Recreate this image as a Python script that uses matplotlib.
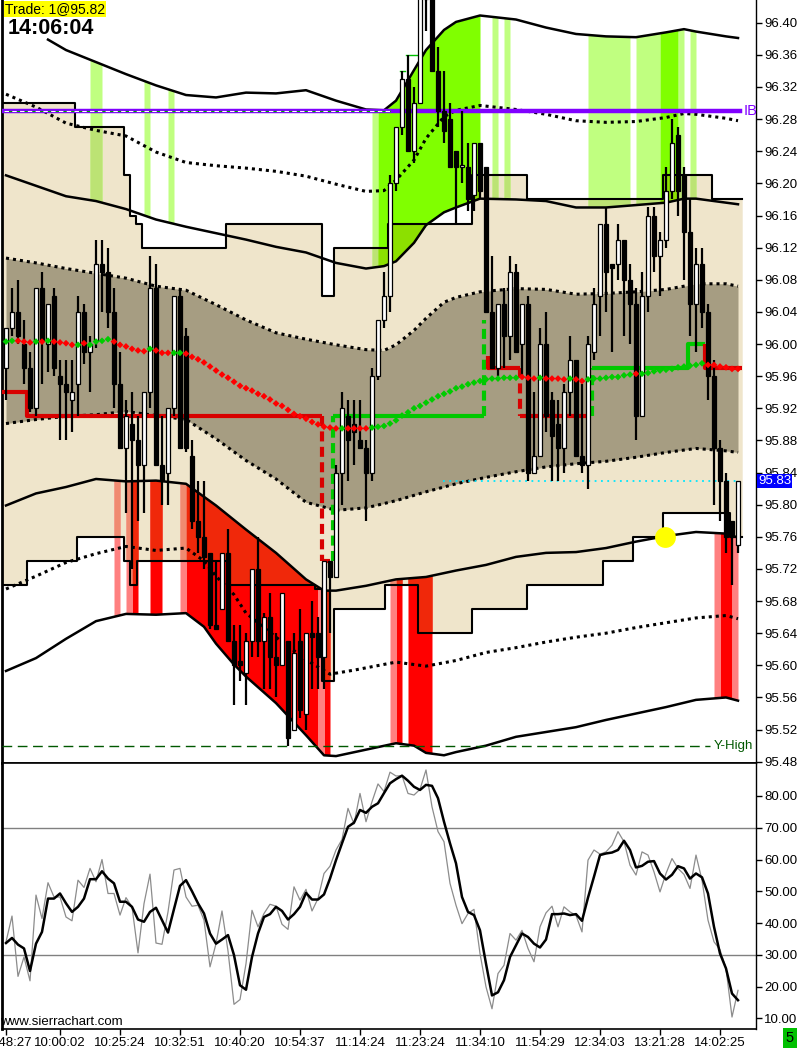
import numpy as np
import matplotlib.pyplot as plt
from matplotlib.patches import Rectangle

plt.rcParams['font.family'] = ['Liberation Sans', 'DejaVu Sans']

# ---------------- price bars (one per bar index) ----------------
opens = [95.97, 96.02, 96.04, 96.00, 95.97, 95.92, 96.07, 96.00, 96.06, 95.96,
         95.95, 95.93, 95.95, 96.04, 95.99, 96.005, 96.10, 96.09, 96.04, 95.95,
         95.87, 95.90, 95.88, 95.85, 95.94, 96.07, 95.85, 95.84, 95.92, 96.06,
         96.01, 95.86, 95.78, 95.76, 95.74, 95.65, 95.67, 95.74, 95.63, 95.605,
         95.59, 95.63, 95.72, 95.63, 95.66, 95.61, 95.60, 95.63, 95.52, 95.63,
         95.54, 95.64, 95.64, 95.61, 95.73, 95.71, 95.84, 95.91, 95.90, 95.88,
         95.87, 95.84, 95.96, 96.03, 96.06, 96.20, 96.27, 96.33, 96.24, 96.30,
         96.43, 96.45, 96.34, 96.29, 96.28, 96.24, 96.22, 96.22, 96.185, 96.25,
         96.22, 96.04, 95.97, 96.05, 96.01, 96.09, 96.00, 96.05, 95.84, 95.86,
         96.00, 95.93, 95.90, 95.87, 95.94, 95.98, 95.86, 95.85, 95.99, 96.06,
         96.15, 96.10, 96.10, 96.13, 96.08, 96.05, 95.91, 96.06, 96.16, 96.11,
         96.13, 96.19, 96.26, 96.21, 96.14, 96.05, 96.10, 96.04, 95.96, 95.87,
         95.83, 95.78, 95.75]
highs = [96.02, 96.07, 96.08, 96.03, 95.99, 96.07, 96.09, 96.05, 96.07, 95.98,
         95.98, 95.98, 96.06, 96.05, 96.01, 96.13, 96.13, 96.12, 96.07, 95.99,
         95.93, 95.94, 95.91, 95.94, 96.11, 96.10, 95.91, 95.92, 96.06, 96.07,
         96.02, 95.88, 95.83, 95.83, 95.74, 95.73, 95.74, 95.77, 95.65, 95.65,
         95.64, 95.72, 95.76, 95.665, 95.69, 95.64, 95.69, 95.63, 95.64, 95.67,
         95.64, 95.68, 95.66, 95.73, 95.73, 95.85, 95.94, 95.93, 95.93, 95.93,
         95.88, 95.97, 96.03, 96.09, 96.21, 96.27, 96.34, 96.36, 96.32, 96.46,
         96.48, 96.47, 96.37, 96.34, 96.30, 96.24, 96.29, 96.25, 96.25, 96.25,
         96.22, 96.11, 96.05, 96.07, 96.11, 96.10, 96.05, 96.06, 95.94, 96.02,
         96.04, 95.94, 95.93, 95.95, 96.01, 95.98, 95.95, 96.01, 96.07, 96.15,
         96.17, 96.10, 96.15, 96.13, 96.10, 96.07, 96.09, 96.17, 96.17, 96.14,
         96.22, 96.28, 96.27, 96.22, 96.18, 96.12, 96.12, 96.05, 95.98, 95.88,
         95.84, 95.78, 95.83]
lows = [95.93, 96.01, 96.00, 95.95, 95.915, 95.91, 95.95, 95.965, 95.96, 95.88,
        95.88, 95.89, 95.91, 95.975, 95.94, 95.995, 96.04, 96.02, 95.92, 95.87,
        95.79, 95.72, 95.78, 95.79, 95.92, 95.85, 95.80, 95.80, 95.91, 95.87,
        95.865, 95.77, 95.74, 95.72, 95.645, 95.645, 95.67, 95.63, 95.55, 95.58,
        95.55, 95.61, 95.61, 95.57, 95.57, 95.56, 95.60, 95.50, 95.52, 95.535,
        95.52, 95.57, 95.57, 95.57, 95.64, 95.71, 95.80, 95.83, 95.85, 95.87,
        95.78, 95.83, 95.955, 96.02, 96.04, 96.19, 96.26, 96.24, 96.225, 96.30,
        96.39, 96.34, 96.27, 96.25, 96.22, 96.15, 96.20, 96.165, 96.165, 96.18,
        96.04, 95.97, 95.96, 95.97, 95.98, 95.99, 95.96, 95.83, 95.84, 95.86,
        95.89, 95.83, 95.83, 95.84, 95.91, 95.86, 95.84, 95.82, 95.98, 96.01,
        96.04, 95.99, 96.08, 96.01, 96.00, 95.88, 95.91, 96.04, 96.09, 96.06,
        96.12, 96.18, 96.16, 96.08, 96.01, 95.99, 96.02, 95.93, 95.80, 95.78,
        95.74, 95.70, 95.74]
closes = [96.02, 96.04, 96.01, 95.97, 95.92, 96.07, 96.005, 96.05, 95.97, 95.95,
          95.94, 95.94, 96.04, 95.99, 96.00, 96.10, 96.09, 96.04, 95.95, 95.87,
          95.91, 95.88, 95.85, 95.94, 96.07, 95.85, 95.83, 95.92, 96.06, 95.87,
          95.87, 95.78, 95.76, 95.735, 95.65, 95.645, 95.74, 95.63, 95.60, 95.60,
          95.63, 95.72, 95.63, 95.66, 95.61, 95.60, 95.69, 95.51, 95.615, 95.545,
          95.64, 95.635, 95.61, 95.73, 95.71, 95.84, 95.92, 95.88, 95.89, 95.87,
          95.84, 95.96, 96.03, 96.06, 96.20, 96.27, 96.33, 96.24, 96.30, 96.44,
          96.47, 96.34, 96.29, 96.265, 96.22, 96.22, 96.22, 96.18, 96.25, 96.19,
          96.04, 95.97, 96.05, 96.01, 96.09, 95.99, 96.05, 95.84, 95.86, 96.00,
          95.91, 95.885, 95.87, 95.94, 95.98, 95.86, 95.85, 96.00, 96.05, 96.15,
          96.09, 96.095, 96.13, 96.08, 96.05, 95.91, 96.06, 96.16, 96.11, 96.13,
          96.19, 96.25, 96.19, 96.14, 96.05, 96.10, 96.04, 95.96, 95.87, 95.83,
          95.76, 95.76, 95.83]

# colored moving average (dots)
ma = [96.003, 96.004, 96.004, 96.003, 96.002, 96.003, 96.003, 96.004, 96.003, 96.002,
      96.001, 95.999, 95.999, 96.001, 95.999, 96.003, 96.004, 96.006, 96.003, 95.999,
      95.997, 95.994, 95.992, 95.991, 95.994, 95.992, 95.989, 95.989, 95.989, 95.989,
      95.988, 95.984, 95.981, 95.977, 95.972, 95.967, 95.962, 95.958, 95.953, 95.948,
      95.945, 95.942, 95.938, 95.935, 95.931, 95.926, 95.923, 95.918, 95.913, 95.910,
      95.907, 95.903, 95.900, 95.897, 95.896, 95.895, 95.895, 95.895, 95.895, 95.895,
      95.895, 95.896, 95.897, 95.898, 95.901, 95.905, 95.911, 95.915, 95.920, 95.923,
      95.927, 95.931, 95.935, 95.938, 95.941, 95.945, 95.947, 95.950, 95.952, 95.954,
      95.956, 95.957, 95.957, 95.958, 95.958, 95.958, 95.959, 95.958, 95.957, 95.958,
      95.957, 95.957, 95.957, 95.956, 95.957, 95.956, 95.954, 95.956, 95.957, 95.957,
      95.958, 95.959, 95.959, 95.961, 95.962, 95.963, 95.963, 95.964, 95.966, 95.967,
      95.968, 95.969, 95.971, 95.972, 95.973, 95.974, 95.976, 95.974, 95.974, 95.972,
      95.971, 95.969, 95.969]
ma_dirs = ("ggrrrgrgrr" "rrgrggggrr" "rrrrgrrrgg" "rrrrrrrrrr" "rrrrrrrrrr"
           "rrrrrrgrrr" "rggggggggg" "gggggggggg" "ggggggrrrg" "rrrrgrrggg"
           "gggggrgggg" "gggggggrrr" "rrr")

# envelope lines: (bar, price) samples
u3_x = [7, 10, 15, 20, 25, 30, 35, 40, 45, 50, 55, 60, 63, 65, 68, 70, 73, 75, 79, 85,
        90, 95, 100, 105, 110, 113, 115, 120, 122]
u3_y = [96.379, 96.366, 96.351, 96.336, 96.322, 96.310, 96.307, 96.313, 96.312, 96.316,
        96.303, 96.292, 96.291, 96.303, 96.341, 96.366, 96.391, 96.401, 96.409, 96.404,
        96.394, 96.386, 96.383, 96.382, 96.388, 96.392, 96.389, 96.383, 96.381]
up_x = [0, 5, 10, 15, 20, 25, 30, 35, 40, 45, 50, 55, 60, 63, 65, 68, 70, 73, 75, 79,
        85, 90, 95, 100, 105, 110, 113, 115, 120, 122]
u2_y = [96.311, 96.295, 96.275, 96.266, 96.259, 96.239, 96.226, 96.222, 96.219, 96.215,
        96.209, 96.199, 96.190, 96.191, 96.204, 96.229, 96.256, 96.283, 96.291, 96.297,
        96.292, 96.286, 96.278, 96.276, 96.277, 96.282, 96.287, 96.286, 96.281, 96.278]
u1_y = [96.210, 96.197, 96.184, 96.178, 96.168, 96.155, 96.146, 96.138, 96.130, 96.121,
        96.114, 96.101, 96.094, 96.097, 96.103, 96.126, 96.148, 96.164, 96.170, 96.181,
        96.180, 96.178, 96.170, 96.170, 96.173, 96.176, 96.181, 96.181, 96.176, 96.174]
mh_y = [96.107, 96.101, 96.094, 96.088, 96.082, 96.072, 96.067, 96.049, 96.030, 96.014,
        96.006, 95.999, 95.993, 95.992, 95.999, 96.017, 96.032, 96.052, 96.058, 96.065,
        96.069, 96.068, 96.062, 96.063, 96.065, 96.068, 96.072, 96.075, 96.075, 96.072]
ml_x = [0, 5, 10, 15, 20, 25, 30, 35, 40, 45, 50, 55, 60, 65, 70, 75, 80, 85, 90, 95,
        100, 105, 110, 115, 120, 122]
ml_y = [95.901, 95.906, 95.910, 95.912, 95.916, 95.911, 95.906, 95.882, 95.855, 95.832,
        95.803, 95.793, 95.796, 95.805, 95.816, 95.826, 95.834, 95.841, 95.847, 95.851,
        95.854, 95.859, 95.865, 95.870, 95.867, 95.865]
l1_x = [0, 5, 10, 15, 20, 25, 30, 35, 40, 45, 50, 53, 55, 60, 65, 70, 75, 80, 85, 90,
        95, 100, 105, 110, 115, 120, 122]
l1_y = [95.799, 95.814, 95.822, 95.832, 95.829, 95.830, 95.826, 95.799, 95.769, 95.740,
        95.707, 95.693, 95.693, 95.699, 95.707, 95.710, 95.718, 95.725, 95.735, 95.740,
        95.741, 95.746, 95.754, 95.761, 95.766, 95.764, 95.759]
l2_x = [0, 5, 10, 15, 20, 25, 30, 33, 35, 38, 40, 45, 50, 54, 58, 65, 70, 75, 80, 85,
        90, 95, 100, 105, 110, 115, 120, 122]
l2_y = [95.695, 95.711, 95.728, 95.739, 95.748, 95.743, 95.746, 95.730, 95.711, 95.688,
        95.665, 95.635, 95.607, 95.589, 95.594, 95.604, 95.599, 95.606, 95.616, 95.622,
        95.629, 95.635, 95.640, 95.647, 95.653, 95.659, 95.662, 95.658]
l3_x = [0, 5, 10, 15, 20, 25, 30, 33, 35, 38, 40, 45, 50, 53, 55, 60, 65, 68, 70, 73,
        75, 80, 85, 90, 95, 100, 105, 110, 115, 120, 122]
l3_y = [95.593, 95.609, 95.633, 95.655, 95.664, 95.663, 95.665, 95.648, 95.627, 95.601,
        95.586, 95.553, 95.513, 95.488, 95.487, 95.495, 95.503, 95.500, 95.491, 95.488,
        95.492, 95.500, 95.511, 95.517, 95.523, 95.532, 95.540, 95.548, 95.557, 95.560,
        95.556]

# step levels bounding the beige zone
top_edges = [-0.7, 11.5, 19.7, 20.7, 21.7, 22.7, 36.7, 52.7, 54.7, 63.7, 77.7, 86.8,
             109.5, 117.7, 122.7]
top_vals = [96.30, 96.27, 96.21, 96.16, 96.15, 96.12, 96.15, 96.06, 96.12, 96.15,
            96.21, 96.18, 96.21, 96.18]
bot_edges = [-0.7, 3.5, 11.8, 19.7, 20.7, 21.8, 36.8, 51.5, 52.7, 54.7, 63.2, 68.7,
             77.7, 86.8, 99.5, 104.5, 109.5, 120.7, 122.7]
bot_vals = [95.70, 95.73, 95.76, 95.73, 95.70, 95.73, 95.70, 95.695, 95.58, 95.67,
            95.70, 95.64, 95.67, 95.70, 95.73, 95.76, 95.79, 95.76]

# highlighted bars
light_green = [14, 15, 23, 27, 61, 81, 83] + list(range(97, 104)) + list(range(105, 109)) + [112, 114]
bright_green = list(range(62, 79)) + [109, 110, 111]
red_bars = [21, 24, 25] + list(range(30, 52)) + [53, 65, 67, 68, 69, 70, 119, 120]
pink_bars = [18, 20, 29, 52, 64, 118, 121]

# trailing stop runs: (x list, y list, color, dashed)
stop_runs = [
    ([-0.7, 3.5, 3.5, 52.7], [95.94, 95.94, 95.91, 95.91], "r", False),
    ([52.7, 52.7], [95.91, 95.73], "r", True),
    ([52.7, 54.0], [95.73, 95.73], "r", False),
    ([54.5, 54.5], [95.73, 95.91], "g", True),
    ([54.5, 79.7], [95.91, 95.91], "g", False),
    ([79.7, 79.7], [95.91, 96.03], "g", True),
    ([80.3, 80.3, 85.7], [95.985, 95.97, 95.97], "r", False),
    ([85.7, 85.7], [95.97, 95.91], "r", True),
    ([85.7, 97.4], [95.91, 95.91], "r", False),
    ([97.7, 97.7], [95.91, 95.97], "g", True),
    ([97.7, 113.7, 113.7, 116.5], [95.97, 95.97, 96.00, 96.00], "g", False),
    ([116.5, 116.5, 122.7], [96.00, 95.97, 95.97], "r", False),
]

ib_level = 96.29
yhigh_level = 95.50
last_price = 95.83
trade_bar, trade_price = 109.8, 95.76

# oscillator
rsi_avg = [33.7, 35.3, 33.2, 32.0, 24.9, 33.5, 37.2, 47.7, 47.7, 49.3,
           46.2, 43.5, 45.1, 47.7, 53.8, 53.8, 56.3, 54.0, 52.5, 46.7,
           46.7, 45.1, 41.1, 40.4, 43.5, 44.8, 40.9, 37.0, 44.4, 51.7,
           53.5, 50.0, 46.2, 43.0, 36.7, 33.5, 34.8, 36.2, 29.9, 20.4,
           19.0, 29.3, 36.7, 41.9, 42.8, 45.1, 43.8, 41.1, 42.8, 45.1,
           49.5, 47.4, 47.4, 49.0, 54.0, 59.8, 65.1, 70.3, 71.6, 75.6,
           74.7, 76.6, 77.7, 80.9, 84.0, 85.3, 86.4, 84.8, 82.9, 81.9,
           83.5, 83.2, 79.3, 71.9, 65.1, 58.8, 48.2, 43.5, 42.5, 37.7,
           27.2, 17.2, 18.2, 22.0, 29.3, 33.0, 36.7, 35.6, 33.5, 32.3,
           34.8, 42.8, 42.8, 43.0, 42.5, 42.8, 40.7, 48.0, 54.6, 61.4,
           61.9, 62.2, 63.0, 65.9, 63.0, 57.5, 58.0, 59.3, 59.5, 55.6,
           53.7, 55.2, 57.9, 57.2, 54.0, 55.6, 54.4, 49.3, 38.8, 30.4,
           25.7, 17.8, 15.7]
rsi_raw = [34.1, 42.2, 23.2, 29.3, 21.8, 48.8, 41.4, 52.7, 48.2, 48.2,
           41.9, 40.7, 53.5, 51.2, 57.2, 53.0, 60.0, 49.3, 49.3, 42.5,
           48.0, 45.1, 30.6, 46.1, 55.4, 33.7, 33.3, 43.5, 56.7, 57.2,
           48.2, 45.3, 45.6, 40.9, 26.2, 33.5, 43.8, 31.2, 14.4, 15.9,
           27.2, 44.0, 38.8, 43.0, 45.9, 45.3, 39.6, 38.0, 51.4, 47.2,
           50.6, 43.8, 47.7, 55.6, 57.9, 63.0, 66.3, 76.1, 71.2, 80.8,
           71.9, 78.2, 83.8, 81.4, 87.5, 86.3, 86.4, 80.8, 80.3, 82.1,
           88.2, 76.6, 68.8, 65.6, 52.5, 45.6, 39.8, 43.0, 44.3, 30.4,
           19.9, 13.0, 24.1, 26.7, 36.7, 34.6, 37.7, 32.0, 27.8, 38.8,
           43.2, 45.3, 38.8, 45.1, 43.5, 42.4, 37.2, 59.8, 63.0, 61.7,
           62.4, 64.5, 68.8, 65.6, 58.2, 55.1, 62.4, 61.4, 56.1, 49.8,
           55.6, 60.3, 57.2, 55.3, 50.9, 61.4, 53.5, 40.9, 34.1, 31.6,
           25.7, 10.4, 18.8]

time_ticks = [0, 9, 19, 29, 39, 49, 59, 69, 79, 89, 99, 109, 119]
time_labels = ["09:48:27", "10:00:02", "10:25:24", "10:32:51", "10:40:20", "10:54:37",
               "11:14:24", "11:23:24", "11:34:10", "11:54:29", "12:34:03", "13:21:28",
               "14:02:25"]

BEIGE = "#EFE5CB"
GRAY = "#A69D82"
LGREEN, LGREEN_IN = "#C0FF80", "#BCE374"
BGREEN, BGREEN_IN = "#80FF00", "#8CE000"
RED, RED_IN = "#FF0000", "#F0280A"
PINK, PINK_IN = "#FF8080", "#F08A70"
STOP_COLORS = {"r": "#D80000", "g": "#00C800"}
MA_COLORS = {"r": "#FF0000", "g": "#00CC00"}


def step_values(edges, vals, xs):
    idx = np.searchsorted(edges, xs, side="right") - 1
    idx = np.clip(idx, 0, len(vals) - 1)
    return np.asarray(vals)[idx]


def runs(bars):
    bars = sorted(bars)
    out = []
    start = prev = bars[0]
    for b in bars[1:]:
        if b == prev + 1:
            prev = b
            continue
        out.append((start, prev + 1))
        start = prev = b
    out.append((start, prev + 1))
    return out


W, H = 797, 1050
fig = plt.figure(figsize=(W / 100, H / 100), dpi=100)
ax = fig.add_axes([2 / W, 1 - 763 / H, 754 / W, 763 / H])
ax2 = fig.add_axes([2 / W, 1 - 1029 / H, 754 / W, 266 / H])

n = len(opens)
bars = np.arange(n)

# beige zone between the two step levels
xf = np.linspace(-0.7, 122.7, 8000)
zone = ax.fill_between(xf, step_values(bot_edges, bot_vals, xf),
                       step_values(top_edges, top_vals, xf),
                       color=BEIGE, lw=0, zorder=1)
zone_path = zone.get_paths()[0]


def fill_bars(bar_list, lo_x, lo_y, hi_x, hi_y, color, color_in):
    for a, b in runs(bar_list):
        xs = np.linspace(a, b, 20)
        lo = np.interp(xs, lo_x, lo_y)
        hi = np.interp(xs, hi_x, hi_y)
        ax.fill_between(xs, lo, hi, color=color, lw=0, zorder=2)
        c = ax.fill_between(xs, lo, hi, color=color_in, lw=0, zorder=2.1)
        c.set_clip_path(zone_path, ax.transData)


fill_bars(light_green, up_x, u1_y, u3_x, u3_y, LGREEN, LGREEN_IN)
fill_bars(bright_green, up_x, u1_y, u3_x, u3_y, BGREEN, BGREEN_IN)
fill_bars(red_bars, l3_x, l3_y, l1_x, l1_y, RED, RED_IN)
fill_bars(pink_bars, l3_x, l3_y, l1_x, l1_y, PINK, PINK_IN)

# middle gray band
xg = np.linspace(0, 122, 1200)
ax.fill_between(xg, np.interp(xg, ml_x, ml_y), np.interp(xg, up_x, mh_y),
                color=GRAY, lw=0, zorder=3)

# step outlines
ax.plot(top_edges, top_vals + [top_vals[-1]], drawstyle="steps-post",
        color="black", lw=1.5, zorder=4)
ax.plot(bot_edges, bot_vals + [bot_vals[-1]], drawstyle="steps-post",
        color="black", lw=1.5, zorder=4)

# envelope lines
dot = (0, (1, 1.3))
for x, y in [(u3_x, u3_y), (up_x, u1_y), (l1_x, l1_y), (l3_x, l3_y)]:
    ax.plot(x, y, color="black", lw=1.8, zorder=5)
for x, y in [(up_x, u2_y), (up_x, mh_y), (ml_x, ml_y), (l2_x, l2_y)]:
    ax.plot(x, y, color="black", lw=2.2, ls=dot, zorder=5)

# horizontal reference levels
ax.plot([-0.3, 122.3], [ib_level, ib_level], color="#8000FF", lw=3.2, zorder=5)
ax.plot([-0.3, 64], [ib_level, ib_level], color="#00A000", lw=0.8, zorder=5.1)
ax.plot([-0.3, 64], [ib_level, ib_level], color="white", lw=0.8,
        ls=(0, (4, 3)), zorder=5.2)
ax.text(122.9, ib_level, "IB", color="#8000FF", fontsize=10.5, va="center",
        ha="left", zorder=6)
ax.plot([-0.7, 117.3], [yhigh_level, yhigh_level], color="#005800", lw=1,
        ls=(0, (7, 4)), zorder=5)
ax.text(124.5, yhigh_level, "Y-High", color="#005800", fontsize=9.5, va="center",
        ha="right", zorder=6)
ax.plot([72.8, 122], [last_price, last_price], color="#00E5FF", lw=1.3,
        ls=(0, (1, 2.5)), zorder=5)

# trailing stop
for xs, ys, col, dashed in stop_runs:
    ax.plot(xs, ys, color=STOP_COLORS[col], lw=3, ls=(0, (2.4, 1.3)) if dashed else "-",
            solid_capstyle="butt", zorder=6)

# new-high ticks
ax.plot([65.7, 66.5], [highs[66], highs[66]], color="#00C000", lw=1, zorder=6)
ax.plot([66.7, 68.7], [highs[67], highs[67]], color="#00C000", lw=1, zorder=6)

# candles
o = np.array(opens)
c = np.array(closes)
ax.vlines(bars, lows, highs, color="black", lw=1.6, zorder=7)
up = c >= o
heights = np.maximum(np.abs(c - o), 0.0025)
ax.bar(bars, heights, bottom=np.minimum(o, c), width=0.7,
       color=np.where(up, "white", "black"), edgecolor="black", lw=0.9, zorder=8)

# colored average
ax.scatter(bars, ma, c=[MA_COLORS[d] for d in ma_dirs], marker="D", s=12, lw=0, zorder=9)

# trade marker
ax.plot(trade_bar, trade_price, "o", ms=15, color="#FFFF00", mec="none", zorder=10)

ax.set_xlim(-0.667, 125.0)
ax.set_ylim(95.4784, 96.4283)
ax.set_xticks([])
ax.yaxis.tick_right()
yt = np.arange(95.48, 96.401, 0.04)
ax.set_yticks(yt)
ax.set_yticklabels(["%.2f" % v for v in yt])
ax.tick_params(axis="y", direction="out", length=4, width=1, labelsize=9.5, pad=2)
ax.spines["top"].set_visible(False)
ax.spines["left"].set_linewidth(2)
ax.spines["right"].set_linewidth(1)
ax.spines["bottom"].set_linewidth(1.2)

ax.text(1.003, last_price, "%.2f" % last_price, transform=ax.get_yaxis_transform(),
        color="white", fontsize=9.5, va="center", ha="left", zorder=20, clip_on=False,
        bbox=dict(facecolor="#0000FF", edgecolor="none", pad=0.8))

# oscillator panel
ax2.axhline(70, color="#808080", lw=1)
ax2.axhline(30, color="#808080", lw=1)
ax2.plot(bars, rsi_raw, color="#8C8C8C", lw=0.9, zorder=3)
ax2.plot(bars, rsi_avg, color="black", lw=1.8, zorder=4)
ax2.set_xlim(-0.667, 125.0)
ax2.set_ylim(6.63, 90.39)
ax2.yaxis.tick_right()
rt = np.arange(10, 81, 10)
ax2.set_yticks(rt)
ax2.set_yticklabels(["%.2f" % v for v in rt])
ax2.set_xticks(time_ticks)
ax2.set_xticklabels(time_labels)
ax2.tick_params(axis="both", direction="out", length=4, width=1, labelsize=9.5, pad=2)
ax2.spines["left"].set_linewidth(2)
ax2.spines["right"].set_linewidth(1)
ax2.spines["top"].set_linewidth(1.2)
ax2.spines["bottom"].set_linewidth(1.2)

# overlay texts
fig.text(5 / W, 1 - 2 / H, "Trade: 1@95.82", fontsize=10, va="top", ha="left",
         bbox=dict(facecolor="#FFFF00", edgecolor="none", pad=0.8))
fig.text(8 / W, 1 - 18 / H, "14:06:04", fontsize=15.5, fontweight="bold", va="top", ha="left")
fig.text(0.5 / W, 1 - 1022 / H, "www.sierrachart.com", fontsize=9.5, va="center", ha="left")
fig.add_artist(Rectangle((783 / W, 1 - 1048 / H), 14 / W, 20 / H,
                         transform=fig.transFigure, facecolor="#00C000", edgecolor="none"))
fig.text(790 / W, 1 - 1038 / H, "5", fontsize=10.5, va="center", ha="center")

fig.savefig("out.png", dpi=100)
